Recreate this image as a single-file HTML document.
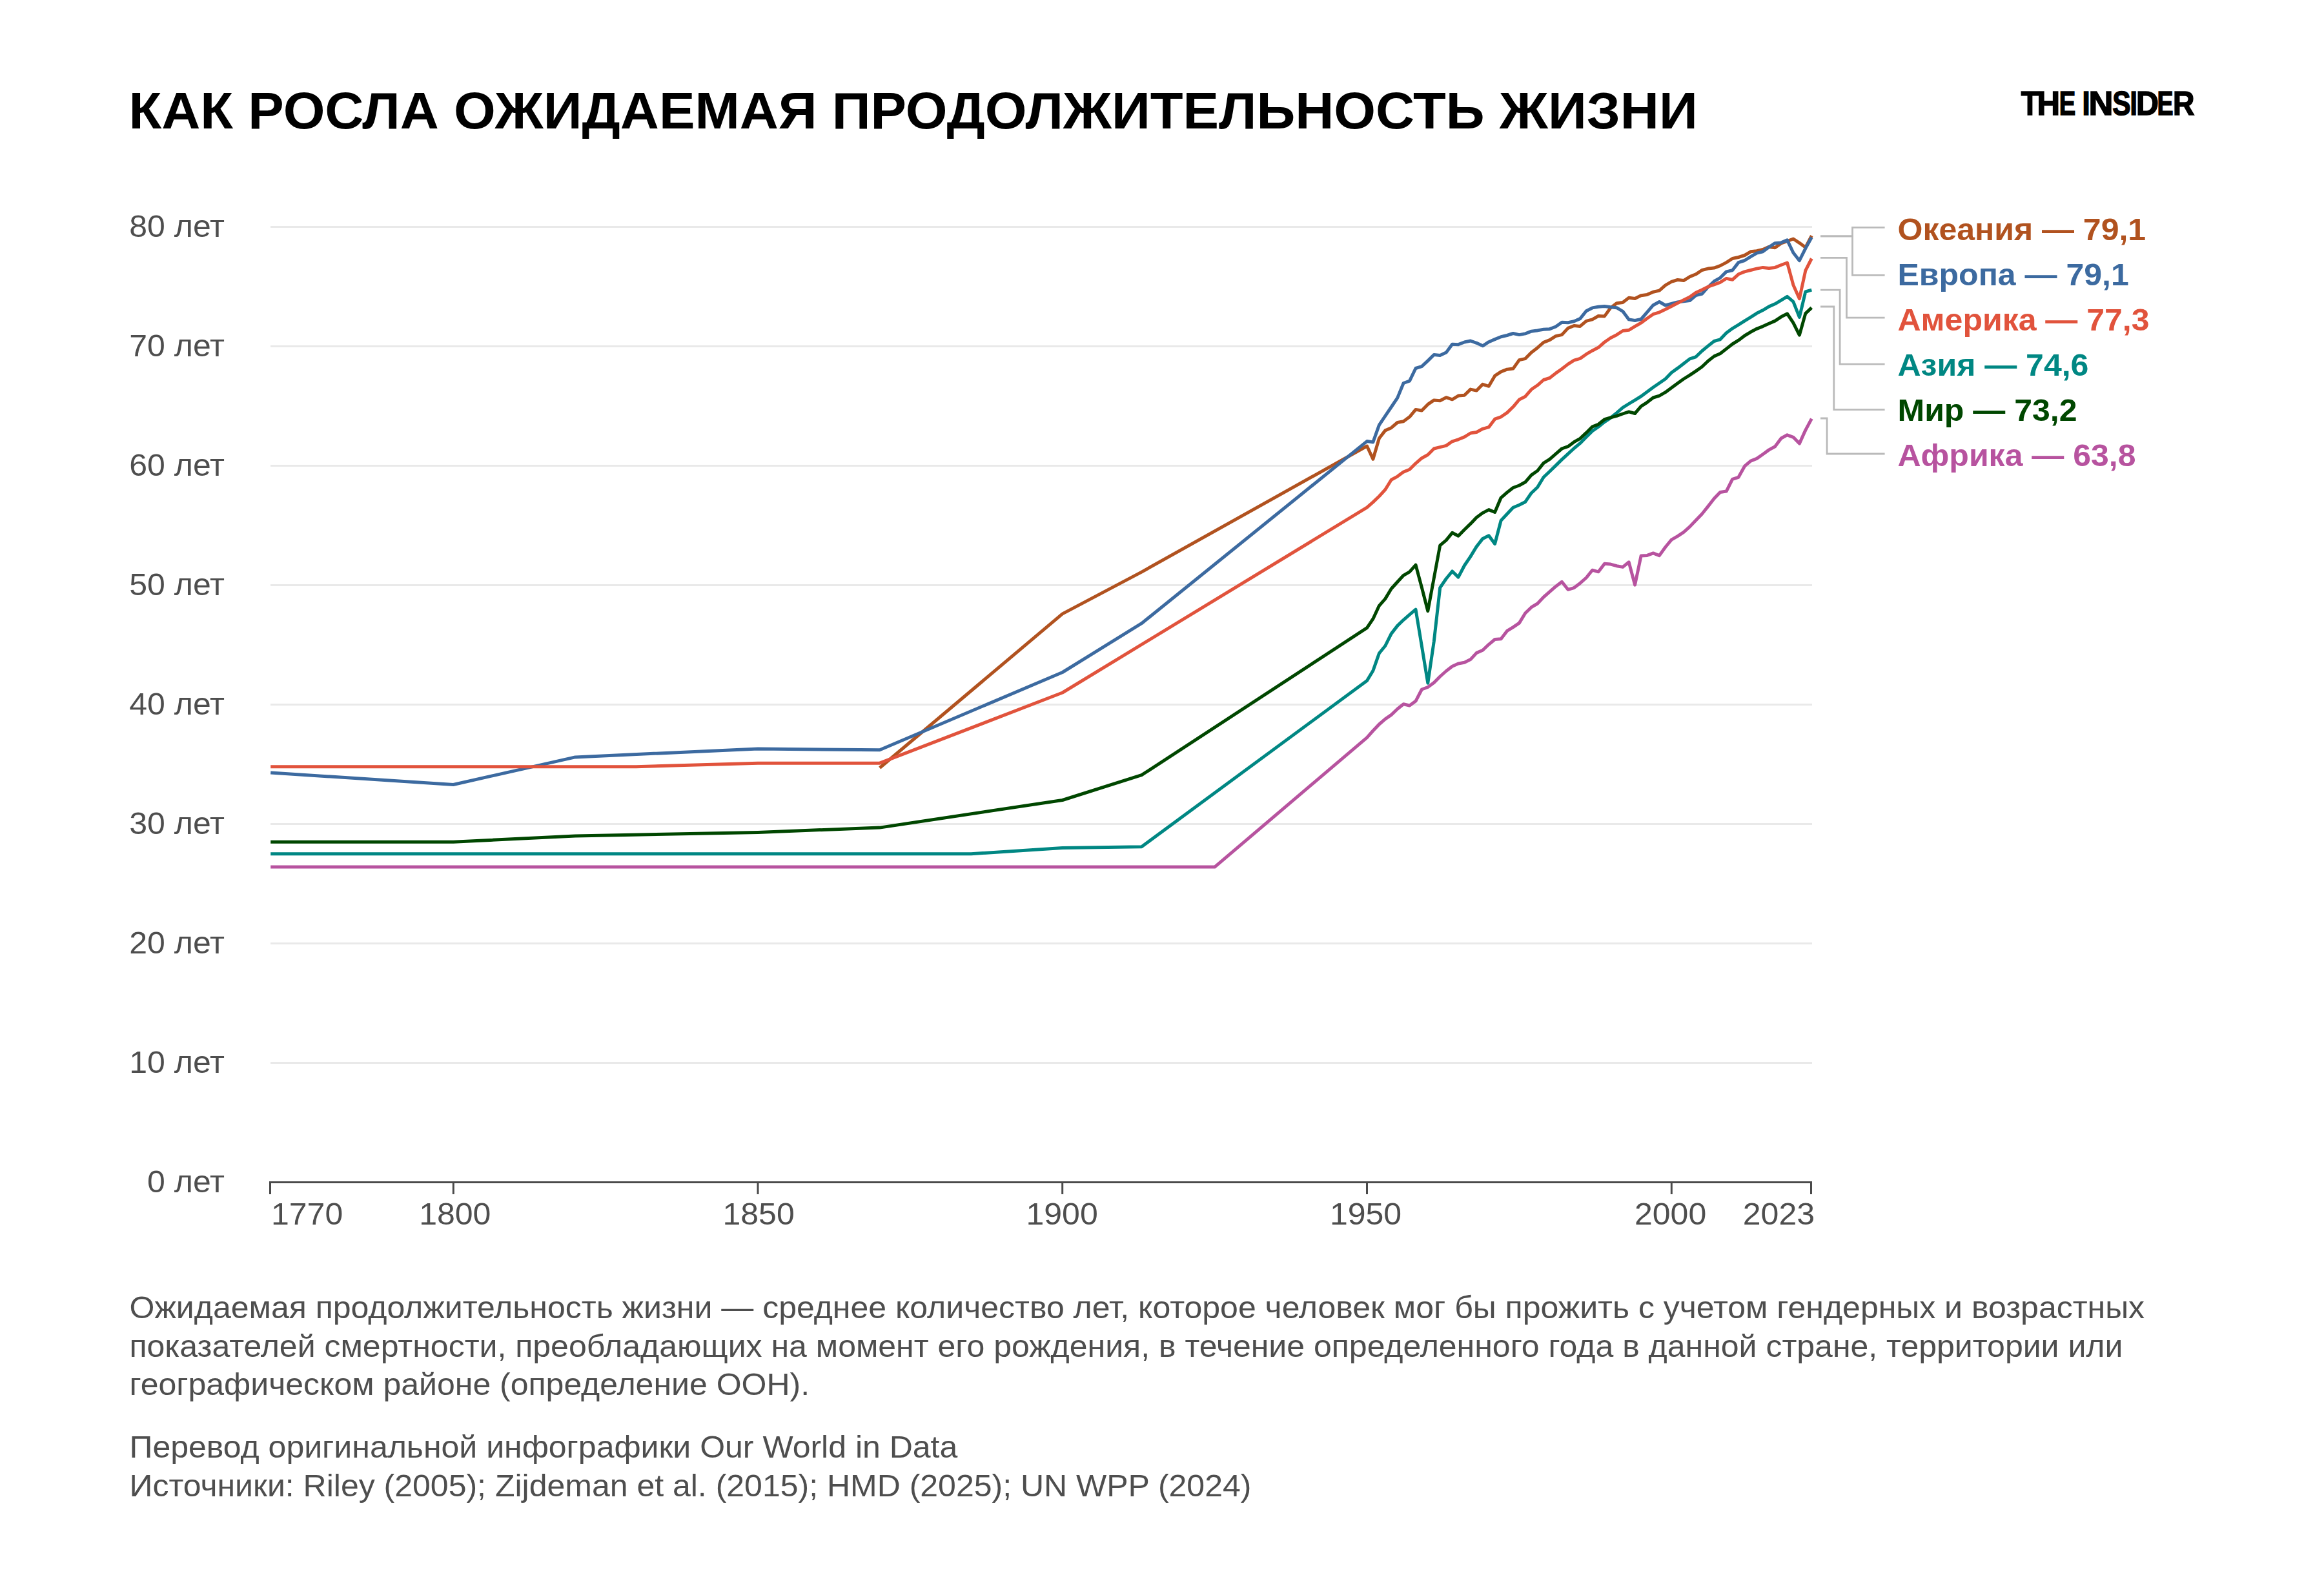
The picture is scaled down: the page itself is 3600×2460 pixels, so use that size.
<!DOCTYPE html>
<html lang="ru">
<head>
<meta charset="utf-8">
<title>Как росла ожидаемая продолжительность жизни</title>
<style>
html,body{margin:0;padding:0;background:#fff;}
body{width:3600px;height:2460px;overflow:hidden;position:relative;font-family:"Liberation Sans",sans-serif;}
svg{position:absolute;left:0;top:0;display:block;}
text{font-family:"Liberation Sans",sans-serif;}
.t{fill:#4e4e4e;font-size:48px;}
.lb{font-weight:bold;font-size:48px;}
.title{font-weight:bold;font-size:79.87px;fill:#000;}
.logo{font-weight:bold;fill:#000;}
</style>
</head>
<body>
<svg width="3600" height="2460" viewBox="0 0 3600 2460">
<text class="title" transform="matrix(1.0417 0 0 1 199.5 199.0)">КАК РОСЛА ОЖИДАЕМАЯ ПРОДОЛЖИТЕЛЬНОСТЬ ЖИЗНИ</text>
<g fill="#e9e9e9">
<rect x="419" y="1645.0" width="2388" height="3"/>
<rect x="419" y="1460.0" width="2388" height="3"/>
<rect x="419" y="1275.0" width="2388" height="3"/>
<rect x="419" y="1090.0" width="2388" height="3"/>
<rect x="419" y="905.0" width="2388" height="3"/>
<rect x="419" y="720.0" width="2388" height="3"/>
<rect x="419" y="535.0" width="2388" height="3"/>
<rect x="419" y="350.0" width="2388" height="3"/>
</g>
<g class="t" text-anchor="end">
<text transform="matrix(1.0417 0 0 1 348.0 1846.5)">0 лет</text>
<text transform="matrix(1.0417 0 0 1 348.0 1661.5)">10 лет</text>
<text transform="matrix(1.0417 0 0 1 348.0 1476.5)">20 лет</text>
<text transform="matrix(1.0417 0 0 1 348.0 1291.5)">30 лет</text>
<text transform="matrix(1.0417 0 0 1 348.0 1106.5)">40 лет</text>
<text transform="matrix(1.0417 0 0 1 348.0 921.5)">50 лет</text>
<text transform="matrix(1.0417 0 0 1 348.0 736.5)">60 лет</text>
<text transform="matrix(1.0417 0 0 1 348.0 551.5)">70 лет</text>
<text transform="matrix(1.0417 0 0 1 348.0 366.5)">80 лет</text>
</g>
<g fill="none" stroke-width="5.0" stroke-linejoin="round" stroke-linecap="butt">
<path stroke="#b1521f" d="M1362.7 1189.5 L1645.8 950.9 L1768.4 886.1 L2117.5 691.0 L2126.9 711.3 L2136.4 679.0 L2145.8 666.9 L2155.2 662.7 L2164.7 654.5 L2174.1 652.7 L2183.5 645.8 L2193.0 634.4 L2202.4 636.0 L2211.8 626.4 L2221.3 619.9 L2230.7 620.7 L2240.2 615.7 L2249.6 618.8 L2259.0 613.1 L2268.5 612.2 L2277.9 603.1 L2287.3 605.1 L2296.8 595.3 L2306.2 598.3 L2315.6 582.2 L2325.1 575.9 L2334.5 572.2 L2343.9 571.1 L2353.4 557.6 L2362.8 555.6 L2372.2 545.9 L2381.7 538.7 L2391.1 530.4 L2400.6 526.7 L2410.0 520.6 L2419.4 518.6 L2428.9 508.4 L2438.3 504.5 L2447.7 505.4 L2457.2 497.3 L2466.6 494.9 L2476.0 489.5 L2485.5 489.9 L2494.9 476.9 L2504.3 469.7 L2513.8 468.4 L2523.2 461.2 L2532.6 462.5 L2542.1 457.7 L2551.5 456.4 L2560.9 452.3 L2570.4 450.1 L2579.8 441.8 L2589.2 436.4 L2598.7 433.5 L2608.1 434.6 L2617.6 428.6 L2627.0 424.8 L2636.4 418.5 L2645.9 416.1 L2655.3 415.1 L2664.7 411.6 L2674.2 406.6 L2683.6 400.5 L2693.0 398.5 L2702.5 395.5 L2711.9 389.8 L2721.3 388.7 L2730.8 386.5 L2740.2 382.4 L2749.6 383.7 L2759.1 377.0 L2768.5 373.7 L2777.9 370.0 L2787.4 376.3 L2796.8 383.3 L2806.3 365.2"/>
<path stroke="#3c6aa0" d="M419.2 1197.0 L702.2 1215.5 L891.0 1172.9 L1174.0 1160.0 L1362.7 1161.8 L1645.8 1041.5 L1768.4 965.7 L2117.5 683.6 L2126.9 684.9 L2136.4 658.4 L2145.8 644.4 L2155.2 630.5 L2164.7 616.4 L2174.1 593.5 L2183.5 590.2 L2193.0 570.5 L2202.4 567.6 L2211.8 558.9 L2221.3 549.5 L2230.7 550.6 L2240.2 546.1 L2249.6 533.2 L2259.0 533.7 L2268.5 530.0 L2277.9 528.0 L2287.3 531.3 L2296.8 535.8 L2306.2 529.7 L2315.6 525.6 L2325.1 521.7 L2334.5 519.5 L2343.9 516.5 L2353.4 518.6 L2362.8 516.9 L2372.2 513.2 L2381.7 511.9 L2391.1 510.2 L2400.6 509.7 L2410.0 506.0 L2419.4 499.3 L2428.9 499.7 L2438.3 497.7 L2447.7 493.6 L2457.2 481.7 L2466.6 476.9 L2476.0 475.3 L2485.5 474.5 L2494.9 475.8 L2504.3 476.7 L2513.8 482.3 L2523.2 494.9 L2532.6 496.5 L2542.1 494.5 L2551.5 483.6 L2560.9 472.7 L2570.4 467.5 L2579.8 473.0 L2589.2 470.5 L2598.7 467.9 L2608.1 466.8 L2617.6 465.6 L2627.0 457.5 L2636.4 455.3 L2645.9 444.7 L2655.3 435.7 L2664.7 430.3 L2674.2 420.9 L2683.6 418.8 L2693.0 406.6 L2702.5 403.5 L2711.9 397.6 L2721.3 392.2 L2730.8 389.8 L2740.2 382.8 L2749.6 376.7 L2759.1 375.9 L2768.5 371.8 L2777.9 391.5 L2787.4 403.7 L2796.8 384.8 L2806.3 367.8"/>
<path stroke="#e1533c" d="M419.2 1187.7 L985.3 1187.7 L1174.0 1182.2 L1362.7 1182.2 L1645.8 1073.0 L2117.5 786.2 L2126.9 777.9 L2136.4 768.7 L2145.8 758.5 L2155.2 743.3 L2164.7 738.1 L2174.1 731.1 L2183.5 727.2 L2193.0 717.8 L2202.4 709.7 L2211.8 704.5 L2221.3 695.0 L2230.7 692.6 L2240.2 690.4 L2249.6 683.8 L2259.0 680.8 L2268.5 676.9 L2277.9 671.0 L2287.3 669.5 L2296.8 664.3 L2306.2 661.7 L2315.6 649.2 L2325.1 645.8 L2334.5 639.4 L2343.9 630.3 L2353.4 619.0 L2362.8 614.2 L2372.2 603.3 L2381.7 596.8 L2391.1 588.5 L2400.6 585.5 L2410.0 578.1 L2419.4 571.5 L2428.9 564.1 L2438.3 558.1 L2447.7 555.4 L2457.2 548.7 L2466.6 543.2 L2476.0 538.3 L2485.5 530.0 L2494.9 523.5 L2504.3 518.7 L2513.8 512.5 L2523.2 511.3 L2532.6 505.6 L2542.1 500.2 L2551.5 493.2 L2560.9 486.7 L2570.4 483.8 L2579.8 479.3 L2589.2 474.5 L2598.7 469.5 L2608.1 464.7 L2617.6 460.1 L2627.0 453.2 L2636.4 449.0 L2645.9 444.2 L2655.3 440.9 L2664.7 437.3 L2674.2 431.4 L2683.6 433.3 L2693.0 424.8 L2702.5 420.9 L2711.9 418.5 L2721.3 416.1 L2730.8 414.4 L2740.2 415.5 L2749.6 414.4 L2759.1 410.5 L2768.5 407.0 L2777.9 441.4 L2787.4 462.7 L2796.8 419.2 L2806.3 400.5"/>
<path stroke="#b7539f" d="M419.2 1343.1 L1881.6 1343.1 L2117.5 1142.6 L2126.9 1132.0 L2136.4 1122.0 L2145.8 1113.9 L2155.2 1107.4 L2164.7 1098.3 L2174.1 1090.8 L2183.5 1093.0 L2193.0 1086.1 L2202.4 1068.0 L2211.8 1064.5 L2221.3 1057.5 L2230.7 1048.0 L2240.2 1039.5 L2249.6 1032.3 L2259.0 1028.0 L2268.5 1026.2 L2277.9 1021.6 L2287.3 1011.4 L2296.8 1007.3 L2306.2 998.3 L2315.6 990.5 L2325.1 989.8 L2334.5 977.4 L2343.9 971.6 L2353.4 965.1 L2362.8 949.8 L2372.2 940.7 L2381.7 935.0 L2391.1 925.0 L2400.6 916.7 L2410.0 908.4 L2419.4 901.3 L2428.9 913.3 L2438.3 910.6 L2447.7 903.4 L2457.2 895.0 L2466.6 883.2 L2476.0 885.8 L2485.5 873.2 L2494.9 874.1 L2504.3 876.7 L2513.8 878.4 L2523.2 870.8 L2532.6 906.1 L2542.1 861.0 L2551.5 860.4 L2560.9 856.9 L2570.4 860.6 L2579.8 847.5 L2589.2 836.2 L2598.7 830.6 L2608.1 824.4 L2617.6 815.9 L2627.0 806.0 L2636.4 796.2 L2645.9 784.4 L2655.3 772.2 L2664.7 762.4 L2674.2 761.1 L2683.6 742.4 L2693.0 739.3 L2702.5 722.2 L2711.9 714.1 L2721.3 710.4 L2730.8 703.7 L2740.2 696.9 L2749.6 691.7 L2759.1 679.0 L2768.5 673.8 L2777.9 677.3 L2787.4 687.1 L2796.8 666.4 L2806.3 648.6"/>
<path stroke="#008783" d="M419.2 1322.8 L1504.2 1322.8 L1645.8 1313.5 L1768.4 1311.7 L2117.5 1054.5 L2126.9 1039.0 L2136.4 1012.0 L2145.8 1000.5 L2155.2 981.6 L2164.7 969.4 L2174.1 960.3 L2183.5 952.2 L2193.0 944.1 L2202.4 1000.9 L2211.8 1058.2 L2221.3 993.5 L2230.7 910.4 L2240.2 896.5 L2249.6 885.0 L2259.0 894.1 L2268.5 876.0 L2277.9 862.1 L2287.3 846.6 L2296.8 834.4 L2306.2 829.7 L2315.6 842.5 L2325.1 806.4 L2334.5 796.2 L2343.9 786.2 L2353.4 782.2 L2362.8 777.4 L2372.2 763.7 L2381.7 754.8 L2391.1 739.3 L2400.6 730.2 L2410.0 721.1 L2419.4 711.9 L2428.9 703.2 L2438.3 694.5 L2447.7 686.7 L2457.2 677.1 L2466.6 667.7 L2476.0 661.2 L2485.5 653.6 L2494.9 647.3 L2504.3 639.7 L2513.8 631.4 L2523.2 625.5 L2532.6 619.8 L2542.1 614.0 L2551.5 607.0 L2560.9 600.0 L2570.4 593.5 L2579.8 587.0 L2589.2 577.2 L2598.7 570.4 L2608.1 563.3 L2617.6 555.9 L2627.0 552.8 L2636.4 543.7 L2645.9 535.9 L2655.3 528.5 L2664.7 525.8 L2674.2 515.8 L2683.6 508.8 L2693.0 503.2 L2702.5 497.1 L2711.9 491.4 L2721.3 485.3 L2730.8 480.6 L2740.2 474.9 L2749.6 470.8 L2759.1 465.1 L2768.5 459.4 L2777.9 467.3 L2787.4 491.4 L2796.8 452.0 L2806.3 449.2"/>
<path stroke="#004700" d="M419.2 1304.2 L702.2 1304.2 L891.0 1295.0 L1174.0 1289.4 L1362.7 1282.1 L1645.8 1239.5 L1768.4 1200.7 L2117.5 972.7 L2126.9 958.7 L2136.4 938.3 L2145.8 927.6 L2155.2 912.0 L2164.7 901.5 L2174.1 891.3 L2183.5 885.8 L2193.0 875.2 L2202.4 910.2 L2211.8 946.5 L2221.3 895.4 L2230.7 844.9 L2240.2 836.8 L2249.6 825.3 L2259.0 830.3 L2268.5 820.5 L2277.9 811.4 L2287.3 801.6 L2296.8 794.6 L2306.2 789.6 L2315.6 793.5 L2325.1 771.1 L2334.5 762.9 L2343.9 755.5 L2353.4 752.0 L2362.8 746.8 L2372.2 735.9 L2381.7 729.3 L2391.1 717.4 L2400.6 711.3 L2410.0 703.2 L2419.4 695.0 L2428.9 691.7 L2438.3 684.7 L2447.7 679.3 L2457.2 670.4 L2466.6 661.0 L2476.0 657.3 L2485.5 649.7 L2494.9 646.8 L2504.3 644.4 L2513.8 641.0 L2523.2 637.9 L2532.6 640.5 L2542.1 629.4 L2551.5 623.3 L2560.9 616.0 L2570.4 613.1 L2579.8 607.7 L2589.2 600.7 L2598.7 593.8 L2608.1 587.0 L2617.6 581.1 L2627.0 574.8 L2636.4 568.3 L2645.9 559.3 L2655.3 551.9 L2664.7 547.8 L2674.2 540.4 L2683.6 533.0 L2693.0 527.2 L2702.5 520.0 L2711.9 514.3 L2721.3 509.3 L2730.8 505.6 L2740.2 501.2 L2749.6 497.1 L2759.1 490.8 L2768.5 486.0 L2777.9 500.2 L2787.4 519.1 L2796.8 485.6 L2806.3 476.6"/>
</g>
<g fill="#4a4a4a">
<rect x="417" y="1830" width="2390" height="3"/>
<rect x="417.0" y="1830" width="3" height="20"/>
<rect x="700.8" y="1830" width="3" height="20"/>
<rect x="1172.5" y="1830" width="3" height="20"/>
<rect x="1644.2" y="1830" width="3" height="20"/>
<rect x="2116.0" y="1830" width="3" height="20"/>
<rect x="2587.8" y="1830" width="3" height="20"/>
<rect x="2804.0" y="1830" width="3" height="20"/>
</g>
<g class="t">
<text transform="matrix(1.0417 0 0 1 420.0 1896.7)">1770</text>
<text text-anchor="middle" transform="matrix(1.0417 0 0 1 704.8 1896.7)">1800</text>
<text text-anchor="middle" transform="matrix(1.0417 0 0 1 1175.1 1896.7)">1850</text>
<text text-anchor="middle" transform="matrix(1.0417 0 0 1 1645.1 1896.7)">1900</text>
<text text-anchor="middle" transform="matrix(1.0417 0 0 1 2115.5 1896.7)">1950</text>
<text text-anchor="middle" transform="matrix(1.0417 0 0 1 2587.6 1896.7)">2000</text>
<text text-anchor="end" transform="matrix(1.0417 0 0 1 2811.0 1896.7)">2023</text>
</g>
<g fill="none" stroke="#bababa" stroke-width="2.8">
<path d="M2820 365.8 H2869.5 V352.4 H2919.6"/>
<path d="M2820 365.8 H2869.5 V426.3 H2919.6"/>
<path d="M2820 399.4 H2860.5 V492.1 H2919.6"/>
<path d="M2820 449.2 H2850.1 V564.2 H2919.6"/>
<path d="M2820 475.0 H2840.8 V634.6 H2919.6"/>
<path d="M2820 648.0 H2830.1 V703.0 H2919.6"/>
</g>
<text class="lb" fill="#b1521f" transform="matrix(1.0417 0 0 1 2939.5 371.9)">Океания — 79,1</text>
<text class="lb" fill="#3c6aa0" transform="matrix(1.0417 0 0 1 2939.5 441.8)">Европа — 79,1</text>
<text class="lb" fill="#e1533c" transform="matrix(1.0417 0 0 1 2939.5 511.7)">Америка — 77,3</text>
<text class="lb" fill="#008783" transform="matrix(1.0417 0 0 1 2939.5 581.7)">Азия — 74,6</text>
<text class="lb" fill="#004700" transform="matrix(1.0417 0 0 1 2939.5 651.6)">Мир — 73,2</text>
<text class="lb" fill="#b7539f" transform="matrix(1.0417 0 0 1 2939.5 721.5)">Африка — 63,8</text>
<g class="t">
<text transform="matrix(1.0417 0 0 1 200.5 2041.9)">Ожидаемая продолжительность жизни — среднее количество лет, которое человек мог бы прожить с учетом гендерных и возрастных</text>
<text transform="matrix(1.0417 0 0 1 200.5 2101.6)">показателей смертности, преобладающих на момент его рождения, в течение определенного года в данной стране, территории или</text>
<text transform="matrix(1.0417 0 0 1 200.5 2160.9)">географическом районе (определение ООН).</text>
<text transform="matrix(1.0417 0 0 1 200.5 2258.0)">Перевод оригинальной инфографики Our World in Data</text>
<text transform="matrix(1.0417 0 0 1 200.5 2317.6)">Источники: Riley (2005); Zijdeman et al. (2015); HMD (2025); UN WPP (2024)</text>
</g>
<g class="logo" font-size="52.0" stroke="#000" stroke-width="1.6" stroke-linejoin="miter">
<text transform="matrix(0.8622 0 0 1 3130.65 178.20)">T</text>
<text transform="matrix(0.9455 0 0 1 3155.55 178.20)">H</text>
<text transform="matrix(0.7355 0 0 1 3189.81 178.20)">E</text>
<text transform="matrix(0.8413 0 0 1 3225.58 178.20)">I</text>
<text transform="matrix(1.0096 0 0 1 3235.55 178.20)">N</text>
<text transform="matrix(0.8165 0 0 1 3272.35 178.20)">S</text>
<text transform="matrix(0.7812 0 0 1 3299.46 178.20)">I</text>
<text transform="matrix(0.9310 0 0 1 3309.00 178.20)">D</text>
<text transform="matrix(0.7220 0 0 1 3341.55 178.20)">E</text>
<text transform="matrix(0.8905 0 0 1 3366.12 178.20)">R</text>
</g>
</svg>
</body>
</html>
